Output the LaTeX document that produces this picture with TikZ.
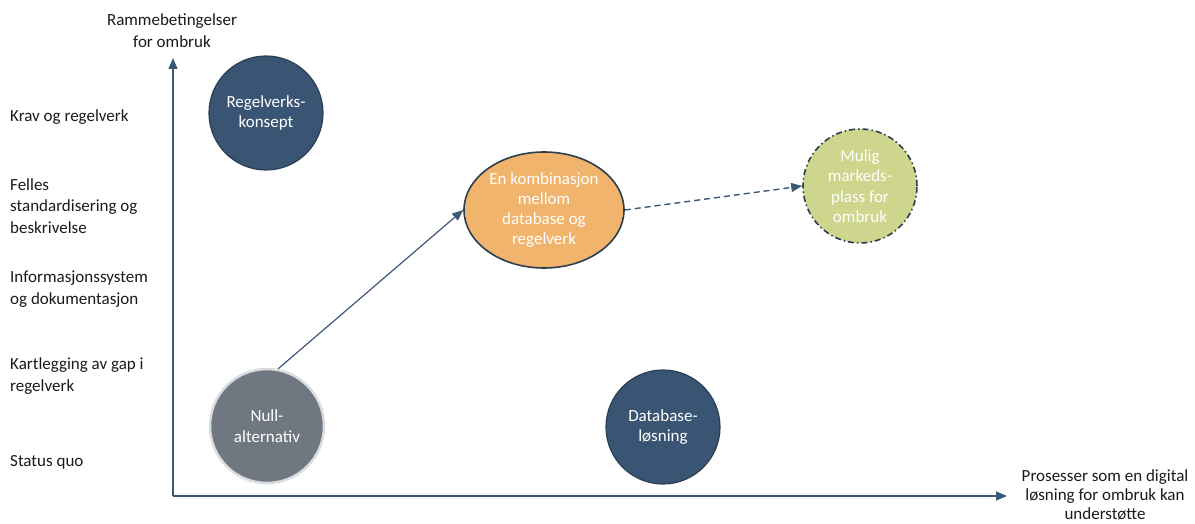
\documentclass[tikz,border=0pt]{standalone}
\usepackage{fontspec}
\setmainfont{Carlito}
\usetikzlibrary{shapes.geometric,arrows.meta}
\definecolor{navy}{HTML}{3A5573}
\definecolor{navyline}{HTML}{2C3E52}
\definecolor{axisblue}{HTML}{3D5777}
\definecolor{apricot}{HTML}{F0B46C}
\definecolor{sage}{HTML}{CED68D}
\definecolor{slate}{HTML}{6F7880}
\definecolor{mist}{HTML}{DADCDE}
\definecolor{ink}{HTML}{1A1A1A}

\tikzset{
  lbl/.style={font=\fontsize{17}{21.5}\selectfont, text=ink, align=left, anchor=west, inner sep=0pt},
  bubble/.style={circle, minimum size=114pt, inner sep=0pt, align=center, text=white,
    font=\fontsize{17}{20.5}\selectfont},
  tip/.style={-{Triangle[length=11pt,width=9pt]}}
}

\begin{document}
\begin{tikzpicture}[x=1pt,y=-1pt]
\useasboundingbox (0,0) rectangle (1195,524);

% Axes
\coordinate (origin) at (173,496);
\coordinate (ytop) at (173,58);
\coordinate (xend) at (1007,496);
\draw[axisblue, line width=1.4pt, tip] (origin) -- (ytop);
\draw[axisblue, line width=1.4pt, tip] (origin) -- (xend);
\node[font=\fontsize{17}{22}\selectfont, text=ink, align=center] (ylabel) at (172,31) {Rammebetingelser\\for ombruk};
\node[font=\fontsize{17}{19}\selectfont, text=ink, align=center] (xlabel) at (1105,495) {Prosesser som en digital\\løsning for ombruk kan\\understøtte};

% Levels on the vertical axis
\node[lbl] (krav) at (10,117) {Krav og regelverk};
\node[lbl] (felles) at (10,206) {Felles\\standardisering og\\beskrivelse};
\node[lbl] (info) at (10,289) {Informasjonssystem\\og dokumentasjon};
\node[lbl] (gap) at (10,376) {Kartlegging av gap i\\regelverk};
\node[lbl] (status) at (10,462) {Status quo};

% Alternatives
\node[bubble, fill=navy, draw=navyline, line width=1.2pt] (regel) at (266,113) {Regelverks-\\konsept};
\node[bubble, fill=slate, draw=mist, line width=2.5pt] (null) at (267,426) {Null-\\alternativ};
\node[bubble, fill=navy, draw=navyline, line width=1.2pt] (dbase) at (663,427) {Database-\\løsning};
\node[ellipse, minimum width=160pt, minimum height=116pt, inner sep=0pt, align=center,
  fill=apricot, draw=navyline, line width=1.6pt, text=white,
  font=\fontsize{17}{20}\selectfont] (combo) at (544,210) {En kombinasjon\\mellom\\database og\\regelverk};
\node[bubble, fill=sage, draw=navyline, line width=1.6pt,
  dash pattern=on 6pt off 3pt on 1.5pt off 3pt] (marked) at (860,186) {Mulig\\markeds-\\plass for\\ombruk};

% Paths between alternatives
\draw[axisblue, line width=1.2pt, tip] (null.79) -- (combo.west);
\draw[axisblue, line width=1.4pt, dash pattern=on 6pt off 4pt, tip] (combo.east) -- (marked.west);

\end{tikzpicture}
\end{document}
